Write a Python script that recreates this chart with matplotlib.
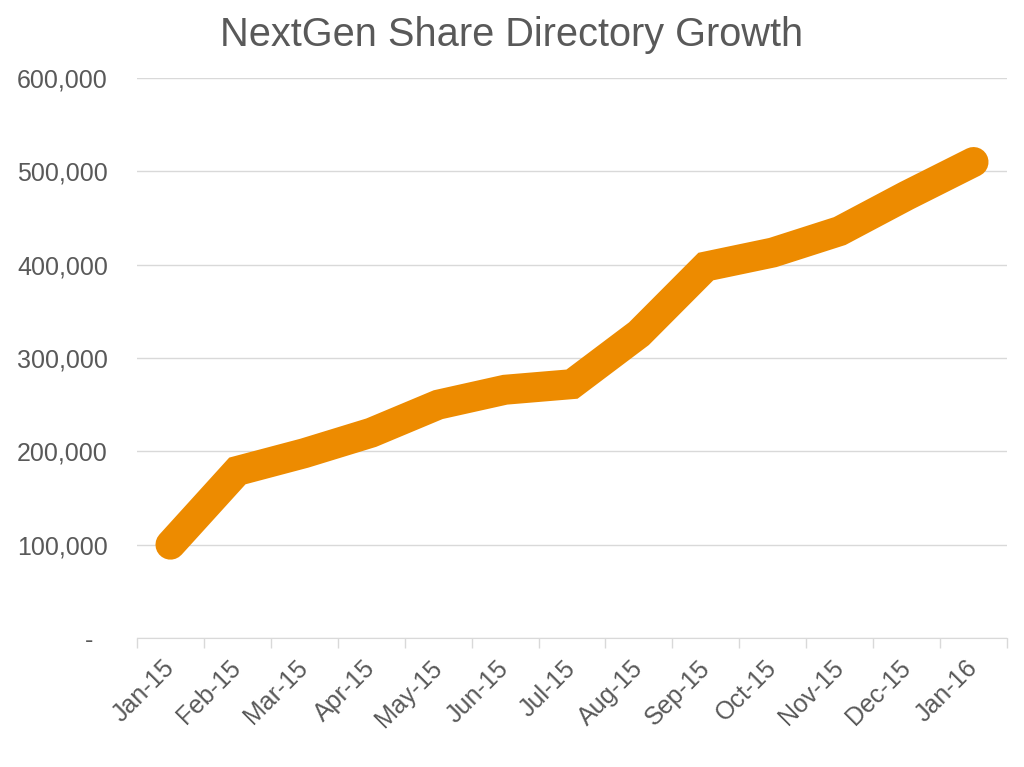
import matplotlib
matplotlib.use("Agg")
import matplotlib.pyplot as plt
from matplotlib.ticker import FuncFormatter, MultipleLocator
import numpy as np

months = ["Jan-15", "Feb-15", "Mar-15", "Apr-15", "May-15", "Jun-15", "Jul-15",
          "Aug-15", "Sep-15", "Oct-15", "Nov-15", "Dec-15", "Jan-16"]
shares = [100000, 179000, 198000, 220000, 250000, 266000, 272000,
          326000, 398000, 413000, 436000, 474000, 510000]

plt.rcParams['font.family'] = ['Liberation Sans', 'DejaVu Sans']
grey = "#595959"

fig = plt.figure(figsize=(10.24, 7.67), dpi=100)
ax = fig.add_axes([137/1024, 1-638/767, 870/1024, 560/767])

x = np.arange(len(months))
ax.plot(x, shares, color="#ED8B00", lw=21.6, solid_capstyle="round",
        solid_joinstyle="miter", zorder=3)

ax.set_xlim(-0.5, len(months) - 0.5)
ax.set_ylim(0, 600000)
ax.yaxis.set_major_locator(MultipleLocator(100000))
# accounting style: zero shown as a dash, padded from the right
ax.yaxis.set_major_formatter(FuncFormatter(lambda v, p: "-  " if v == 0 else f"{int(v):,}"))
ax.grid(axis="y", color="#D9D9D9", lw=1)
ax.set_axisbelow(True)

ax.set_xticks(x)
ax.set_xticklabels(months, rotation=45, ha="right", va="center", rotation_mode="anchor")
ax.set_xticks(np.arange(-0.5, len(months)), minor=True)
ax.tick_params(axis="x", which="major", length=0, pad=19, labelsize=18, labelcolor=grey)
ax.tick_params(axis="x", which="minor", length=7, color="#D9D9D9", width=1)
ax.tick_params(axis="y", length=0, pad=21, labelsize=18, labelcolor=grey)

for s in ["top", "right", "left"]:
    ax.spines[s].set_visible(False)
ax.spines["bottom"].set_color("#D9D9D9")

fig.text(0.5, 1-35/767, "NextGen Share Directory Growth", ha="center", va="center",
         fontsize=28.6, color=grey)

fig.savefig("out.png", dpi=100)
